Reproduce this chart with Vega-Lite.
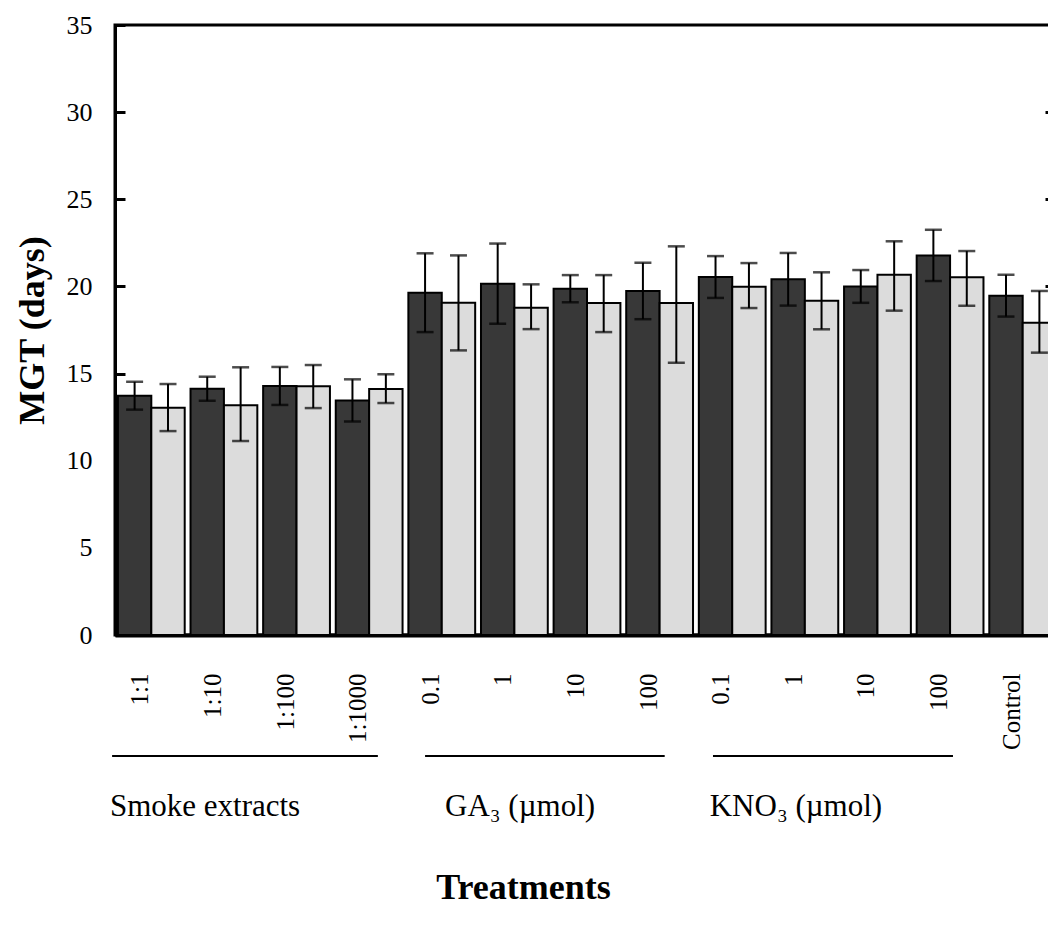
{
  "$schema": "https://vega.github.io/schema/vega-lite/v6.json",
  "autosize": "none",
  "width": 944,
  "height": 610,
  "padding": {"left": 115, "top": 25, "right": -11, "bottom": 304},
  "background": "white",
  "config": {
    "view": {"stroke": "black", "strokeWidth": 3},
    "font": "Liberation Serif"
  },
  "datasets": {
    "bars": [
      {"t": "S1:1", "s": "A", "v": 13.73, "lo": 12.93, "hi": 14.53},
      {"t": "S1:1", "s": "B", "v": 13.04, "lo": 11.70, "hi": 14.40},
      {"t": "S1:10", "s": "A", "v": 14.13, "lo": 13.44, "hi": 14.82},
      {"t": "S1:10", "s": "B", "v": 13.18, "lo": 11.13, "hi": 15.36},
      {"t": "S1:100", "s": "A", "v": 14.29, "lo": 13.20, "hi": 15.38},
      {"t": "S1:100", "s": "B", "v": 14.27, "lo": 13.02, "hi": 15.49},
      {"t": "S1:1000", "s": "A", "v": 13.46, "lo": 12.25, "hi": 14.67},
      {"t": "S1:1000", "s": "B", "v": 14.11, "lo": 13.31, "hi": 14.96},
      {"t": "G0.1", "s": "A", "v": 19.64, "lo": 17.38, "hi": 21.90},
      {"t": "G0.1", "s": "B", "v": 19.07, "lo": 16.33, "hi": 21.78},
      {"t": "G1", "s": "A", "v": 20.16, "lo": 17.86, "hi": 22.46},
      {"t": "G1", "s": "B", "v": 18.77, "lo": 17.55, "hi": 20.12},
      {"t": "G10", "s": "A", "v": 19.87, "lo": 19.09, "hi": 20.65},
      {"t": "G10", "s": "B", "v": 19.05, "lo": 17.38, "hi": 20.65},
      {"t": "G100", "s": "A", "v": 19.74, "lo": 18.12, "hi": 21.36},
      {"t": "G100", "s": "B", "v": 19.05, "lo": 15.62, "hi": 22.30},
      {"t": "K0.1", "s": "A", "v": 20.54, "lo": 19.34, "hi": 21.74},
      {"t": "K0.1", "s": "B", "v": 19.98, "lo": 18.76, "hi": 21.34},
      {"t": "K1", "s": "A", "v": 20.41, "lo": 18.90, "hi": 21.92},
      {"t": "K1", "s": "B", "v": 19.18, "lo": 17.54, "hi": 20.81},
      {"t": "K10", "s": "A", "v": 20.00, "lo": 19.06, "hi": 20.94},
      {"t": "K10", "s": "B", "v": 20.67, "lo": 18.61, "hi": 22.59},
      {"t": "K100", "s": "A", "v": 21.78, "lo": 20.31, "hi": 23.25},
      {"t": "K100", "s": "B", "v": 20.52, "lo": 18.89, "hi": 22.03},
      {"t": "CControl", "s": "A", "v": 19.47, "lo": 18.27, "hi": 20.67},
      {"t": "CControl", "s": "B", "v": 17.92, "lo": 16.20, "hi": 19.74}
    ],
    "groups": [
      {"label": "Smoke extracts", "x1": -0.04, "x2": 3.62, "tx": -0.07, "ly": -6.94, "ty": -10.38},
      {"label": "GA₃ (µmol)", "x1": 4.27, "x2": 7.57, "tx": 4.545, "ly": -6.94, "ty": -10.38},
      {"label": "KNO₃ (µmol)", "x1": 8.235, "x2": 11.54, "tx": 8.19, "ly": -6.94, "ty": -10.38}
    ]
  },
  "layer": [
    {
      "data": {"name": "bars"},
      "encoding": {
        "x": {
          "field": "t", "type": "nominal", "sort": null,
          "scale": {"paddingInner": 0.08, "paddingOuter": 0.04},
          "axis": {
            "orient": "bottom", "domain": true, "domainWidth": 4, "domainColor": "black",
            "ticks": false, "labelAngle": 270, "labelFontSize": 25, "labelFont": "Liberation Serif",
            "labelColor": "black", "labelPadding": 38, "labelOffset": -11,
            "labelExpr": "substring(datum.value, 1)",
            "title": "Treatments", "titleFont": "Liberation Serif", "titleFontSize": 36,
            "titleFontWeight": "bold", "titleColor": "black", "titleX": 408, "titleY": 263,
            "titleBaseline": "alphabetic", "titleAlign": "center"
          }
        },
        "xOffset": {"field": "s", "type": "nominal", "scale": {"paddingInner": 0, "paddingOuter": 0}}
      },
      "layer": [
        {
          "mark": {"type": "bar", "stroke": "black", "strokeWidth": 2},
          "encoding": {
            "y": {
              "field": "v", "type": "quantitative",
              "scale": {"domain": [0, 35], "nice": false},
              "axis": {
                "orient": "left", "values": [0, 5, 10, 15, 20, 25, 30, 35], "grid": false,
                "domain": true, "domainWidth": 3, "domainColor": "black",
                "ticks": true, "tickSize": -10, "tickWidth": 3, "tickColor": "black",
                "labelFont": "Liberation Serif", "labelFontSize": 26, "labelColor": "black",
                "labelPadding": 33,
                "title": "MGT (days)", "titleFont": "Liberation Serif", "titleFontSize": 36,
                "titleFontWeight": "bold", "titleColor": "black", "titleX": -72,
                "titleBaseline": "alphabetic"
              }
            },
            "color": {
              "field": "s", "type": "nominal",
              "scale": {"domain": ["A", "B"], "range": ["#383838", "#dcdcdc"]},
              "legend": null
            }
          }
        },
        {
          "mark": {"type": "rule", "color": "black", "strokeWidth": 2},
          "encoding": {
            "y": {"field": "lo", "type": "quantitative", "scale": {"domain": [0, 35], "nice": false}},
            "y2": {"field": "hi"}
          }
        },
        {
          "mark": {"type": "tick", "color": "black", "size": 17, "thickness": 2.5},
          "encoding": {
            "y": {"field": "hi", "type": "quantitative", "scale": {"domain": [0, 35], "nice": false}}
          }
        },
        {
          "mark": {"type": "tick", "color": "black", "size": 17, "thickness": 2.5},
          "encoding": {
            "y": {"field": "lo", "type": "quantitative", "scale": {"domain": [0, 35], "nice": false}}
          }
        }
      ]
    },
    {
      "data": {"name": "groups"},
      "layer": [
        {
          "mark": {"type": "rule", "color": "black", "strokeWidth": 2},
          "encoding": {
            "x": {"field": "x1", "type": "quantitative", "scale": {"domain": [0, 13], "nice": false, "zero": false}, "axis": null},
            "x2": {"field": "x2"},
            "y": {
              "field": "ly", "type": "quantitative", "scale": {"domain": [0, 35], "nice": false},
              "axis": {
                "orient": "right", "values": [5, 10, 15, 20, 25, 30], "grid": false,
                "domain": false, "labels": false, "title": null,
                "ticks": true, "tickSize": -14, "tickWidth": 3, "tickColor": "black"
              }
            }
          }
        },
        {
          "mark": {"type": "text", "align": "left", "baseline": "alphabetic", "fontSize": 31, "font": "Liberation Serif", "color": "black"},
          "encoding": {
            "x": {"field": "tx", "type": "quantitative", "scale": {"domain": [0, 13], "nice": false, "zero": false}, "axis": null},
            "y": {"field": "ty", "type": "quantitative", "scale": {"domain": [0, 35], "nice": false}},
            "text": {"field": "label"}
          }
        }
      ]
    }
  ],
  "resolve": {"scale": {"x": "independent"}, "axis": {"x": "independent", "y": "independent"}}
}
